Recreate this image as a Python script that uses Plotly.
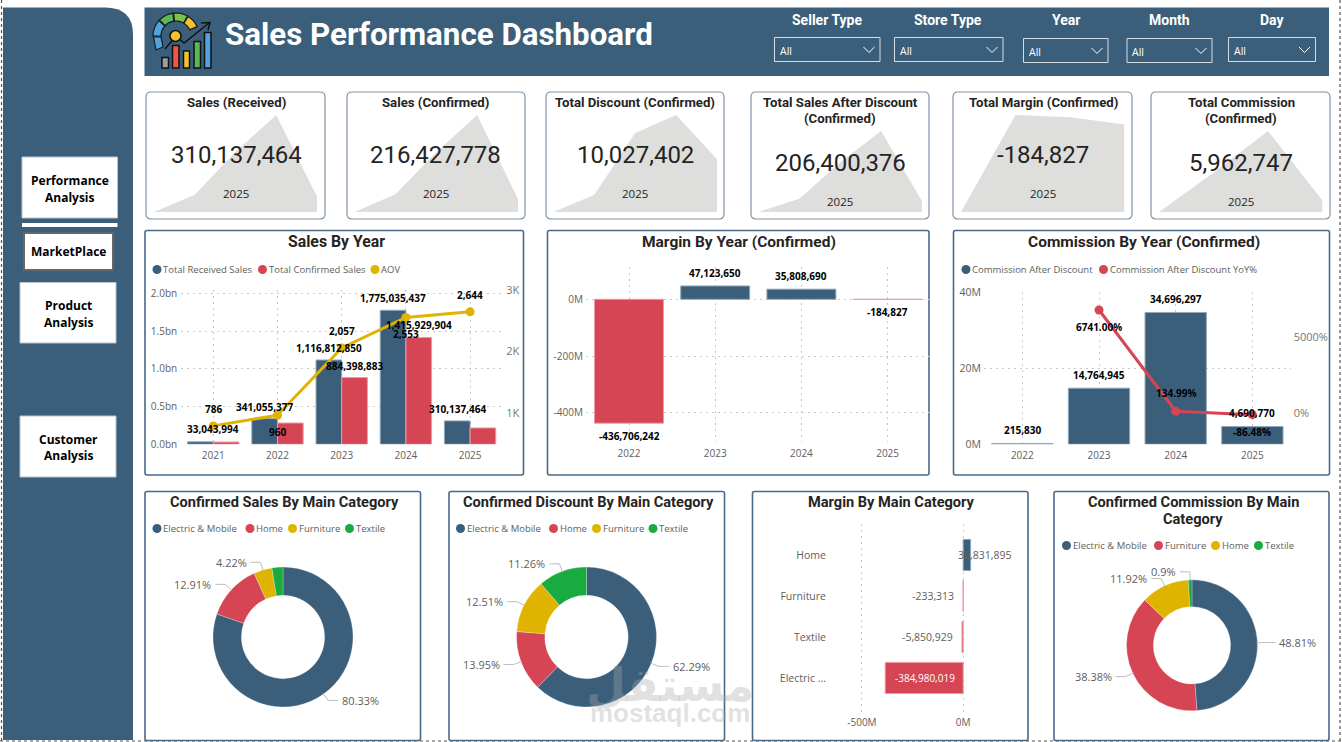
import math

import plotly.graph_objects as go

W, H = 1342, 742
BLUE = "#3B5F7B"
RED = "#D64554"
GOLD = "#DEB400"
GREEN = "#1AAB40"
BLUE_EDGE = "#93A8B8"
RED_EDGE = "#EC9AA3"
GREY_TXT = "#605E5C"
HEAD_FONT = "Roboto"
BODY_FONT = "Open Sans"

# --- data ---
YEARS = ["2021", "2022", "2023", "2024", "2025"]
RECEIVED = [33043994, 341055377, 1116812850, 1775035437, 310137464]
CONFIRMED = [30000000, 282000000, 884398883, 1415929904, 216427778]
AOV = [786, 960, 2057, 2553, 2644]

MARGIN_YEARS = ["2022", "2023", "2024", "2025"]
MARGIN = [-436706242, 47123650, 35808690, -184827]

COMM_YEARS = ["2022", "2023", "2024", "2025"]
COMMISSION = [215830, 14764945, 34696297, 4690770]
COMM_YOY = [None, 6741.00, 134.99, -86.48]

DISCOUNT_TREND = [300000, 3500000, 14900000, 18200000, 10027402]
AFTER_DISC_TREND = [26000000, 250000000, 870000000, 1400000000, 206400376]
COMM_TREND = [200000, 20000000, 41000000, 5962747]

SALES_CATS = ["Electric & Mobile", "Home", "Furniture", "Textile"]
SALES_SHARE = [80.33, 12.91, 4.22, 2.54]
DISC_CATS = ["Electric & Mobile", "Home", "Furniture", "Textile"]
DISC_SHARE = [62.29, 13.95, 12.51, 11.26]
COMM_CATS = ["Electric & Mobile", "Furniture", "Home", "Textile"]
COMM_SHARE = [48.81, 38.38, 11.92, 0.9]

MARGIN_CATS = ["Electric ...", "Textile", "Furniture", "Home"]
MARGIN_BY_CAT = [-384980019, -5850929, -233313, 36831895]

shapes = []
annots = []
layout_axes = {}
axis_count = 0
fig = go.Figure()


def fx(x):
    return x / W


def fy(y):
    return 1 - y / H


def txt(x, y, s, size=10, color=GREY_TXT, bold=False, anchor="center", font=BODY_FONT):
    annots.append(dict(
        x=fx(x), y=fy(y), xref="paper", yref="paper", text=s, showarrow=False,
        xanchor=anchor, yanchor="middle", borderpad=0,
        font=dict(family=font, size=size, color=color, weight=700 if bold else 400),
    ))


def rect(x0, y0, x1, y1, fill="rgba(0,0,0,0)", line=None, width=1):
    shapes.append(dict(
        type="rect", xref="paper", yref="paper", layer="below",
        x0=fx(x0), x1=fx(x1), y0=fy(y0), y1=fy(y1), fillcolor=fill,
        line=dict(color=line or "rgba(0,0,0,0)", width=width),
    ))


def poly(points, fill=None, line=None, width=1, close=False, dash=None, layer="below"):
    path = "M" + " L".join(f"{fx(a):.5f},{fy(b):.5f}" for a, b in points) + (" Z" if close else "")
    shapes.append(dict(
        type="path", xref="paper", yref="paper", layer=layer, path=path,
        fillcolor=fill or "rgba(0,0,0,0)",
        line=dict(color=line or "rgba(0,0,0,0)", width=width, dash=dash or "solid"),
    ))


def round_box(x0, y0, x1, y1, r=5, line="#7F94A6", width=1.2, corners=(1, 1, 1, 1), fill=None, rx=None):
    # corners: tl, tr, br, bl
    rx = rx or r
    sx = lambda v: f"{fx(v):.5f}"
    sy = lambda v: f"{fy(v):.5f}"
    tl, tr, br, bl = corners
    p = f"M{sx(x0 + rx * tl)},{sy(y0)} L{sx(x1 - rx * tr)},{sy(y0)} "
    p += f"Q{sx(x1)},{sy(y0)} {sx(x1)},{sy(y0 + r * tr)} " if tr else ""
    p += f"L{sx(x1)},{sy(y1 - r * br)} "
    p += f"Q{sx(x1)},{sy(y1)} {sx(x1 - rx)},{sy(y1)} " if br else ""
    p += f"L{sx(x0 + rx * bl)},{sy(y1)} "
    p += f"Q{sx(x0)},{sy(y1)} {sx(x0)},{sy(y1 - r)} " if bl else ""
    p += f"L{sx(x0)},{sy(y0 + r * tl)} "
    p += f"Q{sx(x0)},{sy(y0)} {sx(x0 + rx)},{sy(y0)} " if tl else ""
    p += "Z"
    shapes.append(dict(type="path", xref="paper", yref="paper", layer="below", path=p,
                       fillcolor=fill or "rgba(0,0,0,0)",
                       line=dict(color=line or "rgba(0,0,0,0)", width=width)))


def dot(x, y, color, r=4.5):
    shapes.append(dict(type="circle", xref="paper", yref="paper", layer="above",
                       x0=fx(x - r), x1=fx(x + r), y0=fy(y + r), y1=fy(y - r),
                       fillcolor=color, line=dict(width=0)))


def legend(items, y):
    for cx, label, color in items:
        dot(cx, y, color)
        txt(cx + 5, y, label, size=9.5, anchor="left")


def new_axes(x0, x1, y0, y1, xkw, ykw):
    global axis_count
    axis_count += 1
    n = axis_count
    suffix = "" if n == 1 else str(n)
    layout_axes[f"xaxis{suffix}"] = dict(domain=[fx(x0), fx(x1)], anchor=f"y{suffix}", **xkw)
    layout_axes[f"yaxis{suffix}"] = dict(domain=[fy(y1), fy(y0)], anchor=f"x{suffix}", **ykw)
    return f"x{suffix}", f"y{suffix}"


def label(xref, yref, x, y, s, dx=0, dy=0, color="#000000", bold=True, size=10, anchor="center"):
    annots.append(dict(
        x=x, y=y, xref=xref, yref=yref, text=s, showarrow=False, xanchor=anchor, yanchor="middle",
        xshift=dx, yshift=dy, borderpad=0,
        font=dict(family=BODY_FONT, size=size, color=color, weight=700 if bold else 400),
    ))


def signed_bar(vals):
    return dict(color=[RED if v < 0 else BLUE for v in vals],
                line=dict(color=[RED_EDGE if v < 0 else BLUE_EDGE for v in vals], width=1))


TICKS = dict(family=BODY_FONT, size=10, color=GREY_TXT)
GRID = dict(showgrid=True, gridcolor="#C9C9C9", griddash="2px,4px", gridwidth=1, zeroline=False,
            showline=False, ticks="", tickfont=TICKS, fixedrange=True)

# --- page frame, side bar, header ---
for pts in ([(1.5, 0), (1.5, 742)], [(1340, 0), (1340, 742)], [(0, 741), (1342, 741)]):
    poly(pts, line="#555555", width=1.2, dash="dot")

round_box(3, 7.5, 133, 740, r=27, rx=28, line=None, width=0, corners=(0, 1, 0, 0), fill=BLUE)
rect(22, 157, 117.5, 218, fill="white", line="#B8C6D0")
rect(22, 223, 117.5, 227, fill="white")
rect(24, 233, 113, 270, fill="white", line="#666666", width=2)
rect(20, 282.5, 116, 343, fill="white", line="#B8C6D0")
rect(20, 416, 116, 477, fill="white", line="#B8C6D0")
for x, y, s in [(70, 180, "Performance"), (70, 197, "Analysis"), (68.5, 252, "MarketPlace"),
                (68.5, 305, "Product"), (68.5, 322, "Analysis"), (68.5, 439, "Customer"), (68.5, 455, "Analysis")]:
    txt(x, y, s, size=12, color="#000000", bold=True)

rect(144.5, 7.5, 1329, 76, fill=BLUE)
txt(224, 34, "Sales Performance Dashboard", size=31.3, color="white", bold=True, anchor="left", font=HEAD_FONT)

# icon: gauge, bars and trend arrow
GAUGE = [(180, 222, "#4FA3E0"), (224, 262, "#58B85A"), (264, 300, "#79C24F"), (302, 336, "#F2C230")]
for a0, a1, color in GAUGE:
    steps = [a0 + (a1 - a0) * i / 8 for i in range(9)]
    outer = [(176 + 23 * math.cos(math.radians(a)), 36 + 23 * math.sin(math.radians(a))) for a in steps]
    inner = [(176 + 15 * math.cos(math.radians(a)), 36 + 15 * math.sin(math.radians(a))) for a in reversed(steps)]
    poly(outer + inner, fill=color, line="#1A1A1A", width=1.2, close=True)
poly([(153.5, 37), (161, 37), (163, 47), (156, 50)], fill="#4FA3E0", line="#1A1A1A", width=1.2, close=True)
for x0, x1, top, color in [(162, 168.5, 57.5, "#9AA0A4"), (172.5, 179, 45.5, "#F0554B"), (183.5, 189.5, 51, "#F2C230"),
                           (194, 200.5, 41.5, "#58B85A"), (204.5, 211, 32.5, "#4FA3E0")]:
    rect(x0, top, x1, 68, fill=color, line="#111111", width=1.5)
poly([(165, 49), (176, 36), (184, 43), (209, 23)], line="#111111", width=1.5)
poly([(201, 23), (210, 22.5), (208, 30)], line="#111111", width=1.5)
shapes.append(dict(type="circle", xref="paper", yref="paper", layer="below", x0=fx(170), x1=fx(181),
                   y0=fy(41.5), y1=fy(30.5), fillcolor="#F2C230", line=dict(color="#111111", width=1.5)))

# filters
FILTERS = [("Seller Type", 827, 20, 774.5, 880, 37.5), ("Store Type", 948, 20, 894.5, 1003, 37.5),
           ("Year", 1065.5, 20.5, 1023.5, 1108, 38.5), ("Month", 1169, 20.5, 1127, 1212, 38.5),
           ("Day", 1271.5, 20, 1228.5, 1315.5, 37.5)]
for name, cx, ty, bx0, bx1, by in FILTERS:
    txt(cx, ty, name, size=14, color="white", bold=True, font=HEAD_FONT)
    rect(bx0, by, bx1, by + 24, line="#D5DEE5", width=1)
    txt(bx0 + 4, by + 13.5, "All", size=10.5, color="white", anchor="left")
    poly([(bx1 - 16.5, by + 9.5), (bx1 - 11, by + 15), (bx1 - 5.5, by + 9.5)], line="white", width=1)

# --- KPI cards ---
KPI = [
    (146, 325, ["Sales (Received)"], "310,137,464", YEARS, RECEIVED, 154, 317, 115, 236, 155, 193.5),
    (347, 525, ["Sales (Confirmed)"], "216,427,778", YEARS, CONFIRMED, 354.5, 518, 115, 436, 155, 193.5),
    (546, 724, ["Total Discount (Confirmed)"], "10,027,402", YEARS, DISCOUNT_TREND, 553.5, 717, 115, 635, 155, 193.5),
    (751, 929, ["Total Sales After Discount", "(Confirmed)"], "206,400,376", YEARS, AFTER_DISC_TREND, 758.5, 922, 131, 840, 163, 201.5),
    (953, 1132, ["Total Margin (Confirmed)"], "-184,827", MARGIN_YEARS, MARGIN, 961, 1124.5, 115, 1043, 155, 193.5),
    (1151, 1330, ["Total Commission", "(Confirmed)"], "5,962,747", COMM_YEARS, COMM_TREND, 1159, 1322.5, 131, 1241, 163, 201.5),
]
for x0, x1, titles, number, cats, vals, ax0, ax1, ay, cx, ny, yy in KPI:
    round_box(x0, 92, x1, 219)
    hidden = dict(visible=False, fixedrange=True)
    xa, ya = new_axes(ax0, ax1, ay, 212, dict(hidden, type="category", range=[0, len(cats) - 1]),
                      dict(hidden, range=[min(vals), max(vals)]))
    fig.add_trace(go.Scatter(x=cats, y=[min(vals)] * len(cats), xaxis=xa, yaxis=ya, mode="lines",
                             line=dict(width=0), hoverinfo="skip"))
    fig.add_trace(go.Scatter(x=cats, y=vals, xaxis=xa, yaxis=ya, mode="lines", line=dict(width=0),
                             fill="tonexty", fillcolor="#DEDEDD"))
    for i, t in enumerate(titles):
        txt(cx, 102 + 16 * i, t, size=13.2, color="#252423", bold=True, font=HEAD_FONT)
    txt(cx, ny, number, size=24, color="#252423", font=HEAD_FONT)
    txt(cx, yy, "2025", size=11.5, color="#252423")

# --- chart panels ---
PANEL_EDGE = "#47698A"
for x0, x1, y0, y1 in [(145, 523.5, 230.5, 475), (547.5, 929, 230.5, 475), (953.5, 1329.5, 230.5, 475),
                       (145, 420.5, 491.5, 740.5), (449, 724.5, 491.5, 740.5), (752.5, 1028, 491.5, 740.5),
                       (1054, 1329, 491.5, 740.5)]:
    round_box(x0, y0, x1, y1, r=2, line=PANEL_EDGE, width=1.6)

for cx, y, s, size in [(336, 241.5, "Sales By Year", 15.8), (739, 241.5, "Margin By Year (Confirmed)", 15.5),
                       (1144, 241.5, "Commission By Year (Confirmed)", 15.5),
                       (284.5, 502, "Confirmed Sales By Main Category", 14.6),
                       (588, 502, "Confirmed Discount By Main Category", 14.6),
                       (891.5, 502, "Margin By Main Category", 14.6),
                       (1193, 502, "Confirmed Commission By Main", 14.6), (1193, 519, "Category", 14.6)]:
    txt(cx, y, s, size=size, color="#252423", bold=True, font=HEAD_FONT)

# sales by year
X_AX = dict(GRID, type="category", categoryorder="array", ticklabelstandoff=4)
xa, ya = new_axes(181.2, 502.2, 290, 444.3, dict(X_AX, categoryarray=YEARS),
                  dict(GRID, range=[0, 2.044e9], tickvals=[0, 0.5e9, 1e9, 1.5e9, 2e9],
                       ticktext=["0.0bn", "0.5bn", "1.0bn", "1.5bn", "2.0bn"], ticklabelstandoff=3))
fig.add_trace(go.Bar(x=YEARS, y=RECEIVED, xaxis=xa, yaxis=ya, marker=dict(color=BLUE, line=dict(color=BLUE_EDGE, width=1)),
                     offsetgroup="a", name="Total Received Sales"))
fig.add_trace(go.Bar(x=YEARS, y=CONFIRMED, xaxis=xa, yaxis=ya, marker=dict(color=RED, line=dict(color=RED_EDGE, width=1)),
                     offsetgroup="b", name="Total Confirmed Sales"))
layout_axes["yaxis99"] = dict(overlaying=ya, side="right", anchor=xa, range=[486, 3000], tickvals=[1000, 2000, 3000],
                              ticktext=["1K", "2K", "3K"], showgrid=False, zeroline=False, fixedrange=True,
                              ticks="", tickfont=dict(family=BODY_FONT, size=11, color="#777777"), ticklabelstandoff=3)
fig.add_trace(go.Scatter(x=YEARS, y=AOV, xaxis=xa, yaxis="y99", mode="lines+markers", name="AOV",
                         line=dict(color=GOLD, width=3), marker=dict(color=GOLD, size=9)))
label(xa, ya, 0, RECEIVED[0], f"{RECEIVED[0]:,}", dy=13)
for i, v in enumerate(RECEIVED):
    if i:
        label(xa, ya, i, v, f"{v:,}", dx=-12.9, dy=12)
for i in (2, 3):
    label(xa, ya, i, CONFIRMED[i], f"{CONFIRMED[i]:,}", dx=12.9, dy=12)
for i, v in enumerate(AOV):
    label(xa, "y99", i, v, f"{v:,}", dy=-17 if i in (1, 3) else 17)
legend([(157, "Total Received Sales", BLUE), (262.5, "Total Confirmed Sales", RED), (375, "AOV", GOLD)], 269.5)

# margin by year
xa, ya = new_axes(585.9, 930.7, 266.7, 441.7, dict(X_AX, categoryarray=MARGIN_YEARS),
                  dict(GRID, range=[-502e6, 115e6], tickvals=[0, -200e6, -400e6], ticktext=["0M", "-200M", "-400M"],
                       ticklabelstandoff=2))
fig.add_trace(go.Bar(x=MARGIN_YEARS, y=MARGIN, xaxis=xa, yaxis=ya, marker=signed_bar(MARGIN)))
for i, v in enumerate(MARGIN):
    label(xa, ya, i, v, f"{v:,}", dy=-13 if v < 0 else 13)

# commission by year
xa, ya = new_axes(984, 1290.7, 292.3, 444.3, dict(X_AX, categoryarray=COMM_YEARS),
                  dict(GRID, range=[0, 40e6], tickvals=[0, 20e6, 40e6], ticktext=["0M", "20M", "40M"], ticklabelstandoff=2,
                       tickfont=dict(family=BODY_FONT, size=10.5, color=GREY_TXT)))
fig.add_trace(go.Bar(x=COMM_YEARS, y=COMMISSION, xaxis=xa, yaxis=ya, marker=dict(color=BLUE, line=dict(color=BLUE_EDGE, width=1)),
                     name="Commission After Discount"))
layout_axes["yaxis98"] = dict(overlaying=ya, side="right", anchor=xa, range=[-2023, 7898], tickvals=[0, 5000],
                              ticktext=["0%", "5000%"], showgrid=False, zeroline=False, fixedrange=True,
                              ticks="", tickfont=dict(family=BODY_FONT, size=11, color="#777777"), ticklabelstandoff=2)
fig.add_trace(go.Scatter(x=COMM_YEARS, y=COMM_YOY, xaxis=xa, yaxis="y98", mode="lines+markers",
                         name="Commission After Discount YoY%", line=dict(color=RED, width=3),
                         marker=dict(color=RED, size=9)))
for i, v in enumerate(COMMISSION):
    label(xa, ya, i, v, f"{v:,}", dy=13.5)
for i, dy in zip((1, 2, 3), (-17, 18, -17)):
    label(xa, "y98", i, COMM_YOY[i], f"{COMM_YOY[i]:.2f}%", dy=dy)
legend([(966, "Commission After Discount", BLUE), (1103.5, "Commission After Discount YoY%", RED)], 269.5)


# donuts
def donut(cats, vals, colors, cx, cy, r, hole, shown):
    fig.add_trace(go.Pie(labels=cats, values=vals, sort=False, direction="clockwise", rotation=0, hole=hole,
                         textinfo="none", marker=dict(colors=colors, line=dict(color="rgba(255,255,255,0.5)", width=0.5)),
                         domain=dict(x=[fx(cx - r), fx(cx + r)], y=[fy(cy + r), fy(cy - r)])))
    total = sum(vals)
    run = 0
    for i, v in enumerate(vals):
        a = math.radians((run + v / 2) / total * 360)
        run += v
        if i >= shown:
            continue
        sx, sy = math.sin(a), -math.cos(a)
        side = 1 if sx >= 0 else -1
        ex, ey = cx + (r + 8) * sx, cy + (r + 8) * sy
        poly([(cx + (r - 1) * sx, cy + (r - 1) * sy), (ex, ey), (ex + side * 10, ey)], line="#BDBDBD", width=1, layer="above")
        txt(ex + side * 13, ey, f"{v:g}%", size=11, anchor="left" if side > 0 else "right")


donut(SALES_CATS, SALES_SHARE, [BLUE, RED, GOLD, GREEN], 283, 637, 70, 0.595, 3)
donut(DISC_CATS, DISC_SHARE, [BLUE, RED, GOLD, GREEN], 586.5, 637, 70, 0.595, 4)
donut(COMM_CATS, COMM_SHARE, [BLUE, RED, GOLD, GREEN], 1192, 645.3, 65.5, 0.59, 4)
legend([(157, SALES_CATS[0], BLUE), (250, SALES_CATS[1], RED), (292.5, SALES_CATS[2], GOLD), (349.5, SALES_CATS[3], GREEN)], 528.5)
legend([(460.5, DISC_CATS[0], BLUE), (553.5, DISC_CATS[1], RED), (596.5, DISC_CATS[2], GOLD), (653, DISC_CATS[3], GREEN)], 528.5)
legend([(1066.5, COMM_CATS[0], BLUE), (1158.5, COMM_CATS[1], RED), (1215.5, COMM_CATS[2], GOLD), (1258.5, COMM_CATS[3], GREEN)], 545.5)

# margin by category
xa, ya = new_axes(835, 1015, 524, 713,
                  dict(GRID, range=[-633e6, 256e6], tickvals=[-500e6, 0], ticktext=["-500M", "0M"], ticklabelstandoff=2),
                  dict(type="category", categoryorder="array", categoryarray=MARGIN_CATS, range=[-0.854, 3.756],
                       showgrid=False, zeroline=False, ticks="", fixedrange=True, ticklabelstandoff=8,
                       tickfont=dict(family=BODY_FONT, size=10.5, color=GREY_TXT)))
fig.add_trace(go.Bar(x=MARGIN_BY_CAT, y=MARGIN_CATS, xaxis=xa, yaxis=ya, orientation="h", width=0.76,
                     marker=signed_bar(MARGIN_BY_CAT)))
label(xa, ya, MARGIN_BY_CAT[0], 0, f"{MARGIN_BY_CAT[0]:,}", dx=40, color="white", bold=False, size=10)
for i in (1, 2):
    label(xa, ya, MARGIN_BY_CAT[i], i, f"{MARGIN_BY_CAT[i]:,}", dx=-8, color=GREY_TXT, bold=False, size=10.5, anchor="right")
label(xa, ya, MARGIN_BY_CAT[3], 3, f"{MARGIN_BY_CAT[3]:,}", dx=-13.5, color=GREY_TXT, bold=False, size=10.5, anchor="left")

# watermark
txt(670, 685, "مستقل", size=46, color="rgba(170,170,170,0.35)", bold=True, font="DejaVu Sans")
txt(670, 713, "mostaql.com", size=26, color="rgba(170,170,170,0.35)", bold=True, font="Liberation Sans")

fig.update_layout(
    width=W, height=H, margin=dict(l=0, r=0, t=0, b=0, pad=0, autoexpand=False), autosize=False, showlegend=False,
    paper_bgcolor="white", plot_bgcolor="rgba(0,0,0,0)", barmode="group", bargap=0.2, bargroupgap=0,
    shapes=shapes, annotations=annots, **layout_axes,
)
fig.write_html(
    "out.html",
    config={"responsive": False, "displayModeBar": False},
    post_script="document.body.style.margin='0';document.documentElement.style.overflow='hidden';",
)
